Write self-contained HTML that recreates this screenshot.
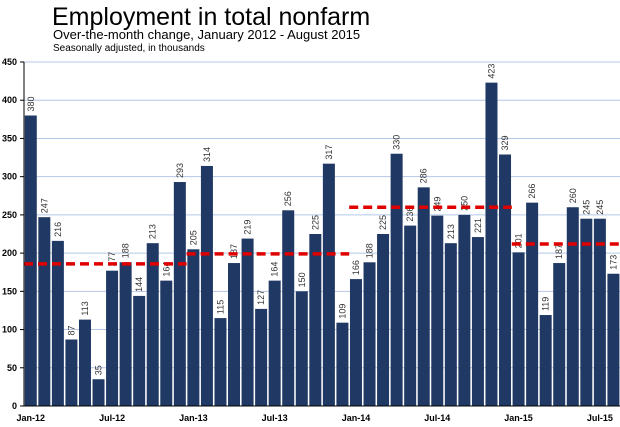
<!DOCTYPE html>
<html><head><meta charset="utf-8"><style>
body{margin:0;background:#fff;}
svg{display:block;font-family:"Liberation Sans",sans-serif;}
</style></head><body>
<svg id="chart" width="620" height="427">
<text x="52" y="25" font-size="25" fill="#000">Employment in total nonfarm</text>
<text x="53" y="39" font-size="13" fill="#000">Over-the-month change, January 2012 - August 2015</text>
<text x="53" y="51" font-size="10" fill="#000">Seasonally adjusted, in thousands</text>
</svg>
<script>
const values=[380,247,216,87,113,35,177,188,144,213,164,293,205,314,115,187,219,127,164,256,150,225,317,109,166,188,225,330,236,286,249,213,250,221,423,329,201,266,119,187,260,245,245,173];
const yTicks=[0,50,100,150,200,250,300,350,400,450];
const xLabels=["Jan-12","Jul-12","Jan-13","Jul-13","Jan-14","Jul-14","Jan-15","Jul-15"];
const xLabelIdx=[0,6,12,18,24,30,36,42];
const avgValues=[186,199,260,212];
const avgStart=[0,12,24,36];
const avgEnd=[11,23,35,43];
const svg=document.getElementById('chart');
const NS='http://www.w3.org/2000/svg';
const x0=24,step=13.55,y0=406,yTop=62,yMax=450;
const y=v=>y0-(v/yMax)*(y0-yTop);
const xc=i=>x0+step*i+step/2;
function mk(t,a){const e=document.createElementNS(NS,t);for(const k in a)e.setAttribute(k,a[k]);svg.appendChild(e);return e;}
yTicks.forEach(t=>{
  if(t>0){const g=mk('line',{x1:x0,x2:620,y1:y(t),y2:y(t),stroke:'#b4c7e7','stroke-width':1});
  
  }
  const l=mk('text',{x:17,y:y(t)+3,'font-size':9,'font-weight':'bold','text-anchor':'end'});
  l.textContent=t;
  
  
  const tk=mk('line',{x1:x0-4,x2:x0,y1:y(t),y2:y(t),stroke:'#000'});
  
  
});
values.forEach((v,i)=>{
  const r=mk('rect',{x:xc(i)-6,y:y(v),width:12,height:y0-y(v),fill:'#1f3864'});
  
  
  const cx=xc(i)+3,cy=y(v)-4;
  const t=mk('text',{x:cx,y:cy,'font-size':9,fill:'#333',transform:`rotate(-90 ${cx} ${cy})`});
  t.textContent=v;
  
  
});
avgValues.forEach((v,k)=>{
  const l=mk('line',{x1:x0+step*avgStart[k],x2:x0+step*(avgEnd[k]+1),y1:y(v),y2:y(v),stroke:'#e00000','stroke-width':3.5,'stroke-dasharray':'9,5'});
  
  
});
const ax=mk('line',{x1:x0,x2:x0,y1:yTop,y2:y0,stroke:'#000'});


const bx=mk('line',{x1:x0,x2:620,y1:y0,y2:y0,stroke:'#000'});


xLabels.forEach((s,k)=>{
  const t=mk('text',{x:xc(xLabelIdx[k]),y:y0+15,'font-size':9,'font-weight':'bold','text-anchor':'middle'});
  t.textContent=s;
  
  
});
</script>
</body></html>
